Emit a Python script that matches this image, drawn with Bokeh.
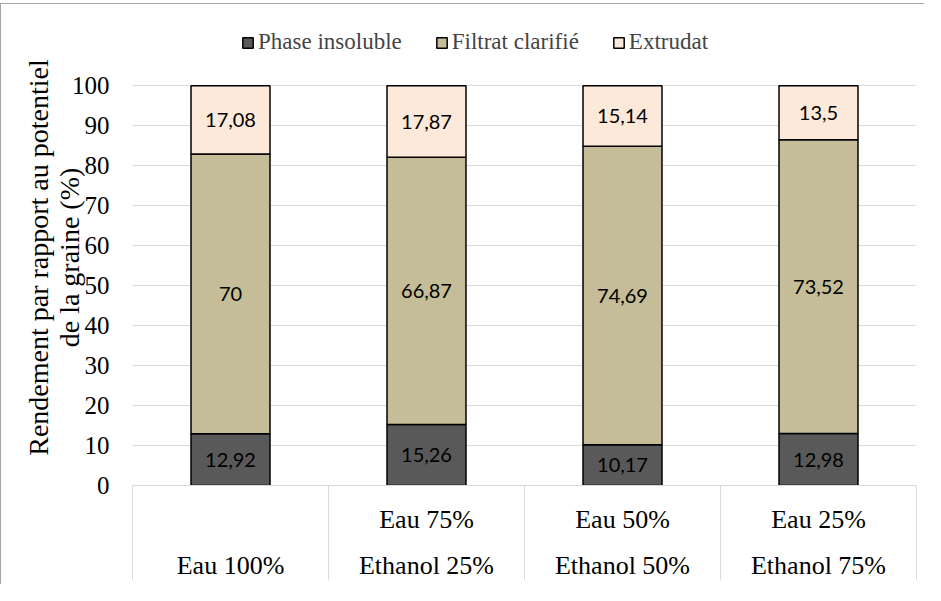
from bokeh.plotting import figure
from bokeh.models import ColumnDataSource, FixedTicker, Range1d
from bokeh.core.properties import value
from bokeh.embed import file_html
from bokeh.resources import INLINE

# ---- data ----
cat_line1 = ["", "Eau 75%", "Eau 50%", "Eau 25%"]
cat_line2 = ["Eau 100%", "Ethanol 25%", "Ethanol 50%", "Ethanol 75%"]
phase_insoluble = [12.92, 15.26, 10.17, 12.98]
filtrat_clarifie = [70, 66.87, 74.69, 73.52]
extrudat = [17.08, 17.87, 15.14, 13.5]
series_names = ["Phase insoluble", "Filtrat clarifié", "Extrudat"]
y_ticks = [0, 10, 20, 30, 40, 50, 60, 70, 80, 90, 100]
y_title = "Rendement par rapport au potentiel\nde la graine (%)"

colors = ["#595959", "#c4bd97", "#fde9d9"]
Y_MAX = 114.09

n = len(cat_line2)
xs = [i + 0.5 for i in range(n)]
bounds = list(range(n + 1))

p = figure(width=924, height=581, x_range=Range1d(0, n), y_range=Range1d(0, Y_MAX),
           output_backend="svg", toolbar_location=None,
           min_border_left=131, min_border_right=9, min_border_top=25, min_border_bottom=100)
p.margin = (3, 0, 0, 0)
p.styles = {"border-top": "1px solid #a6a6a6", "border-left": "1px solid #a6a6a6"}
p.outline_line_color = None
p.background_fill_color = "white"
p.border_fill_color = "white"

p.xgrid.visible = False
p.ygrid.ticker = FixedTicker(ticks=y_ticks)
p.ygrid.grid_line_color = "#d9d9d9"
p.ygrid.grid_line_width = 1

# y axis
ay = p.yaxis[0]
ay.ticker = FixedTicker(ticks=y_ticks)
ay.axis_line_color = None
ay.major_tick_line_color = None
ay.minor_tick_line_color = None
ay.major_tick_out = 0
ay.major_label_standoff = 23
ay.major_label_text_font = "Liberation Serif"
ay.major_label_text_font_size = "25px"
ay.major_label_text_color = "black"
ay.axis_label = y_title
ay.axis_label_text_font = "Liberation Serif"
ay.axis_label_text_font_size = "28px"
ay.axis_label_text_font_style = "normal"
ay.axis_label_text_color = "black"
ay.axis_label_text_line_height = 1.0
ay.axis_label_standoff = -16

# x axis: labels at category centres, separators as minor ticks
ax = p.xaxis[0]
ax.ticker = FixedTicker(ticks=xs, minor_ticks=bounds)
ax.major_label_overrides = {x: f"{a}\n{b}" for x, a, b in zip(xs, cat_line1, cat_line2)}
ax.axis_line_color = "#d9d9d9"
ax.major_tick_line_color = None
ax.major_tick_out = 0
ax.major_tick_in = 0
ax.minor_tick_in = 0
ax.minor_tick_out = 94
ax.minor_tick_line_color = "#d9d9d9"
ax.minor_tick_line_width = 1
ax.major_label_standoff = -75
ax.major_label_text_font = "Liberation Serif"
ax.major_label_text_font_size = "26px"
ax.major_label_text_color = "black"
ax.major_label_text_line_height = 1.61

src = ColumnDataSource(dict(x=xs, insol=phase_insoluble, filt=filtrat_clarifie, extr=extrudat))
p.vbar_stack(["insol", "filt", "extr"], x="x", width=0.403, color=colors,
             line_color="black", line_width=1.5, source=src,
             legend_label=series_names)

# value labels
lx, ly, lt = [], [], []
for i in range(n):
    bottom = 0
    for ser in (phase_insoluble, filtrat_clarifie, extrudat):
        v = ser[i]
        lx.append(xs[i])
        ly.append(bottom + v / 2)
        lt.append(f"{v:g}".replace(".", ","))
        bottom += v
p.text(x=lx, y=ly, text=lt, text_font=value("Lato"), text_font_size="20px",
       text_align="center", text_baseline="middle", text_color="black")

lg = p.legend[0]
lg.orientation = "horizontal"
lg.location = (109, 430)
lg.label_text_font = "Liberation Serif"
lg.label_text_font_size = "23px"
lg.glyph_width = 13
lg.glyph_height = 13
lg.label_standoff = 4
lg.spacing = 33
lg.padding = 0
lg.margin = 0
lg.border_line_color = None
lg.background_fill_alpha = 0

open("out.html", "w").write(file_html(p, INLINE))
